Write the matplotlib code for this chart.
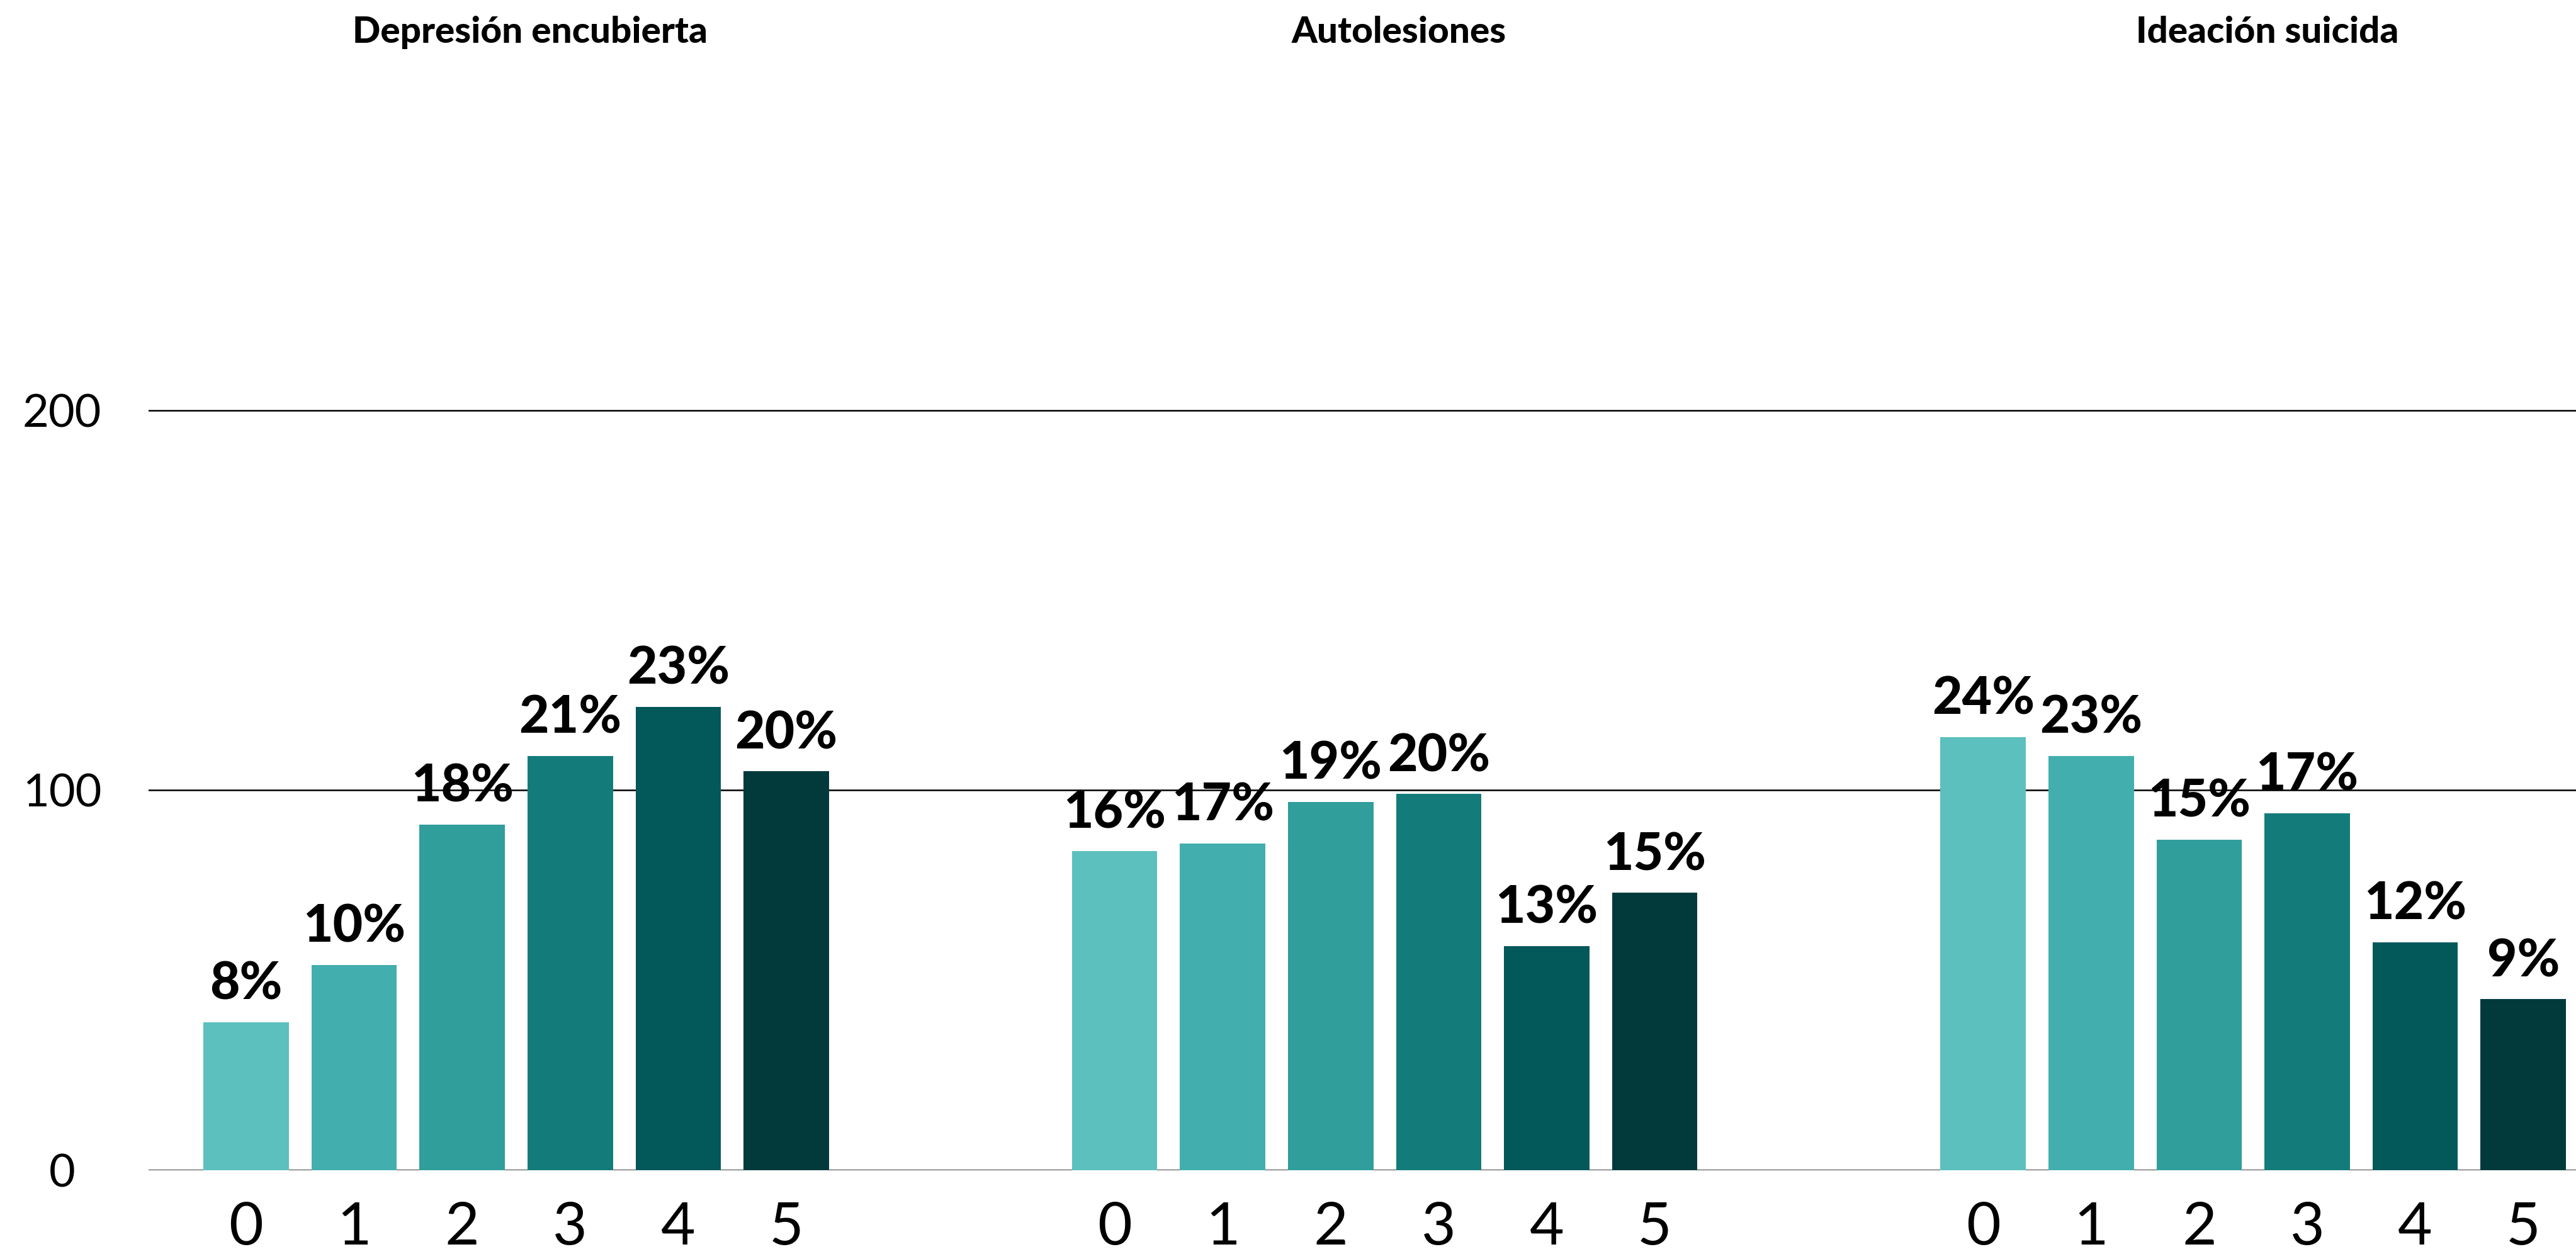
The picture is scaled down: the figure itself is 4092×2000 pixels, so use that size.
import matplotlib
matplotlib.use("Agg")
import matplotlib.pyplot as plt
import matplotlib.transforms as mtransforms

# ---- data ----
groups = ["Depresión encubierta", "Autolesiones", "Ideación suicida"]
categories = ["0", "1", "2", "3", "4", "5"]
depresion = [39, 54, 91, 109, 122, 105]
autolesiones = [84, 86, 97, 99, 59, 73]
ideacion = [114, 109, 87, 94, 60, 45]
depresion_pct = ["8%", "10%", "18%", "21%", "23%", "20%"]
autolesiones_pct = ["16%", "17%", "19%", "20%", "13%", "15%"]
ideacion_pct = ["24%", "23%", "15%", "17%", "12%", "9%"]
yticks = [0, 100, 200]

series = [depresion, autolesiones, ideacion]
pct_labels = [depresion_pct, autolesiones_pct, ideacion_pct]
colors = ["#5BC0BE", "#43AEAE", "#309E9B", "#137C7A", "#03585A", "#023A3C"]

DPI = 100
fig = plt.figure(figsize=(40.92, 20), dpi=DPI)
ax = fig.add_axes([236 / 4092, 141 / 2000, 1 - 236 / 4092, 0.825 - 141 / 2000])

group_gap = 8.04
bar_w = 0.79
fam = ["Lato", "DejaVu Sans"]

xt, xtl = [], []
trans = mtransforms.blended_transform_factory(ax.transData, fig.transFigure)
for g, (vals, labs) in enumerate(zip(series, pct_labels)):
    xs = [g * group_gap + i for i in range(len(categories))]
    ax.bar(xs, vals, width=bar_w, color=colors, zorder=3)
    for x, v, lab in zip(xs, vals, labs):
        ax.annotate(lab, (x, v), xytext=(0, 26), textcoords="offset points",
                    ha="center", va="baseline", fontsize=59, fontweight="black",
                    family=fam, color="black", zorder=4)
    xt += xs
    xtl += categories
    # facet title
    ax.text(g * group_gap + 2.5 + 0.13, 1 - 68 / 2000, groups[g], transform=trans,
            ha="center", va="baseline", fontsize=42, fontweight="black",
            family=fam, color="black")

ax.set_xlim(-0.903, 21.568)
ax.set_ylim(0, 250)
ax.set_xticks(xt)
ax.set_xticklabels(xtl, fontsize=68, family=fam, fontweight="normal")
ax.set_yticks(yticks)
ax.set_yticklabels([str(t) for t in yticks], fontsize=52,
                   family=fam, fontweight="normal", ha="center")
ax.tick_params(axis="y", length=0, pad=99, colors="black")
ax.tick_params(axis="x", length=0, pad=36, colors="black")

for s in ax.spines.values():
    s.set_visible(False)
for t in yticks:
    ax.axhline(t, color="black", linewidth=1.8, zorder=2)

fig.savefig("out.png", dpi=DPI, facecolor="white")
